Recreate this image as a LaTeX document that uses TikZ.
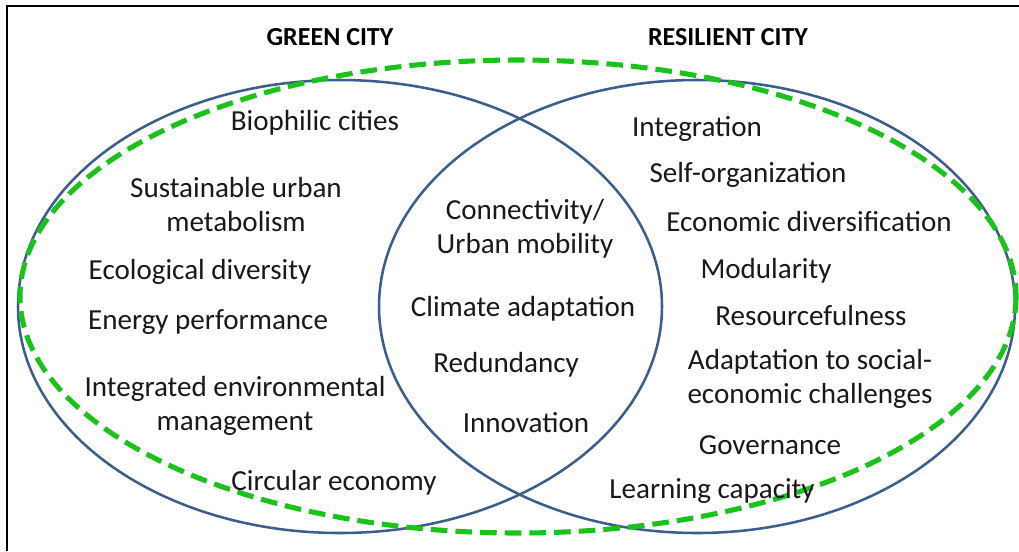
\documentclass[tikz,border=0pt]{standalone}
\usepackage{fontspec}
\setmainfont{Carlito}
\definecolor{vennblue}{RGB}{59,94,140}
\definecolor{ringgreen}{RGB}{25,195,25}
\begin{document}
\begin{tikzpicture}[x=0.75pt,y=-0.75pt,
  lbl/.style={font=\fontsize{21.8}{25.5}\selectfont, align=center, inner sep=0pt, text=black!90},
  ttl/.style={font=\bfseries\fontsize{19.5}{23}\selectfont, inner sep=0pt},
  venn/.style={draw=vennblue, line width=1.9pt},
  greenring/.style={draw=ringgreen, line width=3.8pt, dash pattern=on 12.5pt off 6pt},
  frame/.style={draw=black, line width=1.6pt}]
  \useasboundingbox (0,0) rectangle (1019,551);
  \fill[white] (0,0) rectangle (1019,551);
  % outer frame (only the top and left edges fall inside the page)
  \draw[frame] (1019,6) -- (7,6) -- (7,551);

  % the two sets
  \draw[venn] (340,306.5) ellipse [x radius=322, y radius=226.5];
  \draw[venn] (697,306.5) ellipse [x radius=318, y radius=226.5];
  % the dashed ring around both
  \draw[greenring] (518,296.5) ellipse [x radius=498, y radius=236.5];

  % titles
  \node[ttl] (green) at (330,37) {GREEN CITY};
  \node[ttl] (resilient) at (728,37) {RESILIENT CITY};

  % green city only
  \node[lbl] (bio) at (315,123) {Biophilic cities};
  \node[lbl] (metab) at (236,205) {Sustainable urban\\metabolism};
  \node[lbl] (eco) at (200,272) {Ecological diversity};
  \node[lbl] (energy) at (208,322) {Energy performance};
  \node[lbl] (env) at (235,406) {Integrated environmental\\management};
  \node[lbl] (circ) at (334,483) {Circular economy};

  % shared
  \node[lbl] (conn) at (525,229) {Connectivity/\\Urban mobility};
  \node[lbl] (climate) at (523,309) {Climate adaptation};
  \node[lbl] (redund) at (506,365) {Redundancy};
  \node[lbl] (innov) at (526,423) {Innovation};

  % resilient city only
  \node[lbl] (integ) at (697,129) {Integration};
  \node[lbl] (selforg) at (748,175) {Self-organization};
  \node[lbl] (econ) at (809,222) {Economic diversification};
  \node[lbl] (modul) at (766,271) {Modularity};
  \node[lbl] (resource) at (811,316) {Resourcefulness};
  \node[lbl] (social) at (810,379) {Adaptation to social-\\economic challenges};
  \node[lbl] (gov) at (770,445) {Governance};
  \node[lbl] (learn) at (712,491) {Learning capacity};
\end{tikzpicture}
\end{document}
